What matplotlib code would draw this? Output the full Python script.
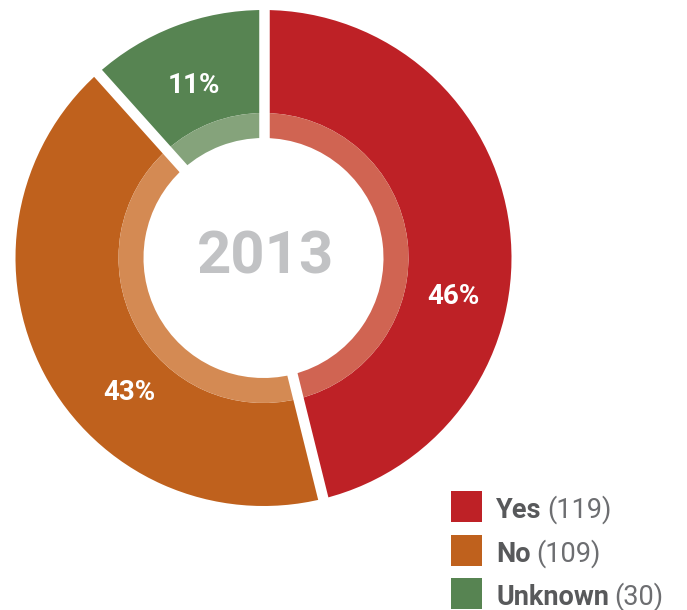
import matplotlib.pyplot as plt
import numpy as np
from matplotlib.patches import Rectangle

plt.rcParams["font.family"] = ["Roboto", "DejaVu Sans"]

# =========================
# Data
# =========================
categories = ["Yes", "No", "Unknown"]
counts = [119, 109, 30]
pct_labels = ["46%", "43%", "11%"]
year_label = "2013"

dark_colors = ["#BE2126", "#BF611D", "#578452"]
light_colors = ["#D06452", "#D48A53", "#85A37B"]

# =========================
# Layout (pixel space, y up)
# =========================
W, H = 687, 610
cx, cy = 263.5, 610 - 258
r_outer, r_mid, r_inner = 248, 145, 120
gap_px = 10.5

# label offsets from the ring centre, in pixels
label_offsets = [(190, -38.5), (-134, -135), (-70, 172.5)]

fig = plt.figure(figsize=(W / 100, H / 100), dpi=100)
ax = fig.add_axes([0, 0, 1, 1])

# outer dark ring
ax.pie(counts, radius=r_outer, center=(cx, cy), startangle=90,
       counterclock=False, colors=dark_colors,
       wedgeprops=dict(width=r_outer - r_mid, linewidth=0))
# lighter inner band
ax.pie(counts, radius=r_mid, center=(cx, cy), startangle=90,
       counterclock=False, colors=light_colors,
       wedgeprops=dict(width=r_mid - r_inner, linewidth=0))

# white separators between slices
total = sum(counts)
bounds = np.concatenate([[0], np.cumsum(counts)[:-1]])
for b in bounds:
    ang = np.deg2rad(90 - 360 * b / total)
    ax.plot([cx, cx + (r_outer + 10) * np.cos(ang)],
            [cy, cy + (r_outer + 10) * np.sin(ang)],
            color="white", lw=gap_px * 72 / 100, solid_capstyle="butt",
            zorder=5)

# percentage labels
for txt, (dx, dy) in zip(pct_labels, label_offsets):
    ax.text(cx + dx, cy + dy, txt, color="white", fontsize=20,
            fontweight="bold", ha="center", va="center", zorder=6)

ax.text(cx + 2, cy + 1, year_label, color="#C1C2C4", fontsize=43,
        fontweight="bold", ha="center", va="center", zorder=6)

# legend
sq = 31
legend_tops = [491, 534.5, 578]
for name, n, col, top in zip(categories, counts, dark_colors, legend_tops):
    y0 = H - top - sq
    ax.add_patch(Rectangle((451, y0), sq, sq, color=col, lw=0))
    t = ax.text(496, y0 + 4, name, color="#58595B", fontsize=19.5,
                fontweight="bold", ha="left", va="baseline")
    ax.annotate(f"({n})", xy=(1, 0), xycoords=t, xytext=(4, 0),
                textcoords="offset points", color="#6D6E71", fontsize=19.5,
                ha="left", va="bottom")

ax.set_xlim(0, W)
ax.set_ylim(0, H)
ax.set_aspect("equal")
ax.axis("off")

fig.savefig("out.png", dpi=100, facecolor="white")
